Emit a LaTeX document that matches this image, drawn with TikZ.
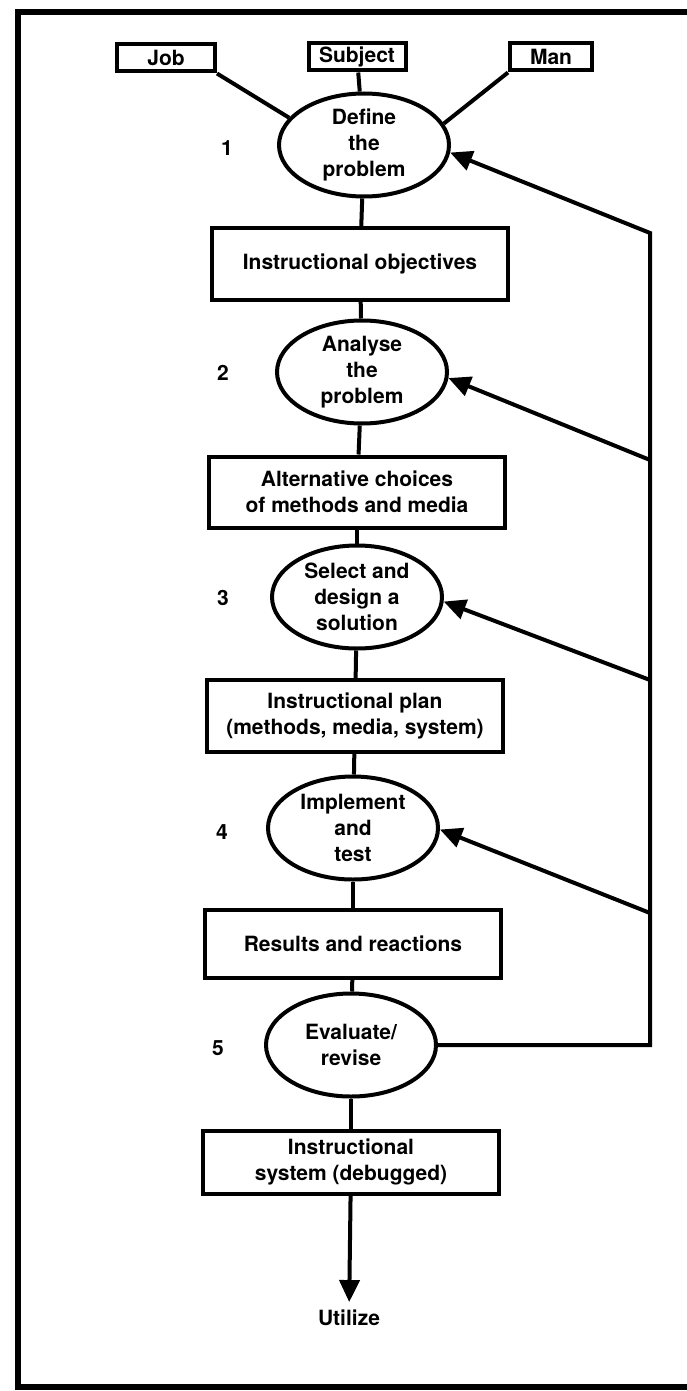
\documentclass[tikz,border=0pt]{standalone}
\usepackage{fontspec}
\setmainfont{TeX Gyre Heros}
\usetikzlibrary{shapes.geometric,arrows.meta}
\begin{document}
\begin{tikzpicture}[x=1pt, y=-1pt, font=\fontsize{21}{26}\selectfont\bfseries,
  line width=4pt, >={Triangle[length=22pt,width=20pt]},
  stage/.style={ellipse, draw, minimum width=170pt, minimum height=103pt, inner sep=0pt, align=center},
  outbox/.style={draw, minimum width=296pt, inner sep=0pt, align=center},
  src/.style={draw, minimum height=27pt, inner sep=0pt},
  num/.style={inner sep=0pt}]
\path[use as bounding box, fill=white] (0,0) rectangle (687,1391);
\draw[line width=5.5pt] (692,12) -- (18,12) -- (18,1387) -- (692,1387);
\node[src, minimum width=98pt] (job) at (166,58) {Job};
\node[src, minimum width=97pt] (subj) at (357,57) {Subject};
\node[src, minimum width=82pt] (man) at (551,57) {Man};
\node[stage] (e1) at (364,145) {Define\\the\\problem};
\node[outbox, minimum height=72pt] (b1) at (360,264) {Instructional objectives};
\node[stage] (e2) at (362,372) {Analyse\\the\\problem};
\node[outbox, minimum height=71pt] (b2) at (357,492) {Alternative choices\\of methods and media};
\node[stage] (e3) at (357,597) {Select and\\design a\\solution};
\node[outbox, minimum height=72pt] (b3) at (355,716) {Instructional plan\\(methods, media, system)};
\node[stage] (e4) at (353,828) {Implement\\and\\test};
\node[outbox, minimum height=68pt] (b4) at (353,944) {Results and reactions};
\node[stage] (e5) at (351,1045) {Evaluate/\\revise};
\node[outbox, minimum height=63pt] (b5) at (351,1162) {Instructional\\system (debugged)};
\node[inner sep=6pt] (use) at (349,1318) {Utilize};
\foreach \k/\x/\y in {1/227/148,2/223/373,3/223/598,4/222/832,5/218/1048} \node[num] (n\k) at (\x,\y) {\k};
\draw (job.south east) -- (e1.160);
\draw (subj) -- (e1);
\draw (man.south west) -- (e1.15);
\foreach \a/\b in {e1/b1,b1/e2,e2/b2,b2/e3,e3/b3,b3/e4,e4/b4,b4/e5,e5/b5} \draw (\a) -- (\b);
\draw[->] (b5) -- (use);
\coordinate (c1) at (650,233);
\coordinate (c2) at (650,460);
\coordinate (c3) at (650,680);
\coordinate (c4) at (650,913);
\draw[->, line join=miter] (e5.east) -| (c1) -- (e1.-5);
\foreach \k/\a in {2/-4,3/-3,4/-1} \draw[->] (c\k) -- (e\k.\a);
\end{tikzpicture}
\end{document}
